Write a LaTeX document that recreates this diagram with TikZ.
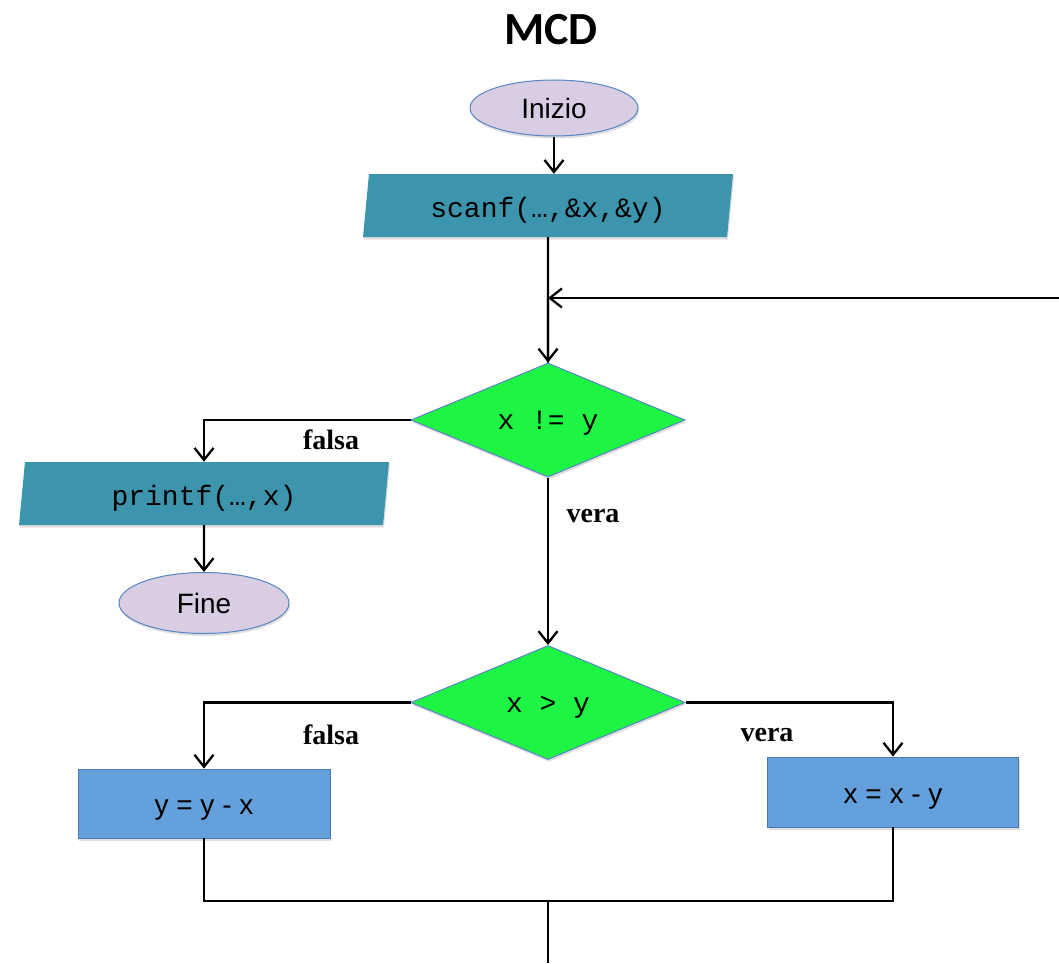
\documentclass[tikz,border=0pt]{standalone}
\usepackage{fontspec}
\setmainfont{Liberation Sans}
\newfontfamily\monof{Liberation Mono}
\newfontfamily\labf{Liberation Serif}
\newfontfamily\titlef{Carlito}
\usetikzlibrary{shapes.geometric,arrows.meta,shadows}
\definecolor{lav}{HTML}{D8CDE3}
\definecolor{bord}{HTML}{5585C4}
\definecolor{teal}{HTML}{3D95AD}
\definecolor{grn}{HTML}{1EF443}
\definecolor{boxblue}{HTML}{64A1DC}
\tikzset{
  shd/.style={drop shadow={opacity=0.25,shadow xshift=1pt,shadow yshift=-2.5pt}},
  term/.style={ellipse,draw=bord,line width=1pt,fill=lav,shd,inner sep=0pt,
    font=\fontsize{28}{32}\selectfont},
  io/.style={trapezium,trapezium left angle=76,trapezium right angle=104,
    trapezium stretches body,fill=teal,shd,inner sep=0pt,minimum height=63pt,
    text height=24pt,text depth=0pt,
    font=\monof\fontsize{28}{32}\selectfont},
  cond/.style={diamond,draw=bord,line width=1pt,fill=grn,shd,inner sep=0pt,aspect=2.4,
    text height=19pt,text depth=0pt,
    minimum width=274pt,minimum height=114pt,font=\monof\fontsize{28}{32}\selectfont},
  proc/.style={rectangle,draw=bord!90!black,line width=0.8pt,fill=boxblue,shd,inner sep=0pt,
    text height=22pt,text depth=0pt,
    font=\fontsize{28}{32}\selectfont},
  lab/.style={font=\labf\bfseries\fontsize{28}{32}\selectfont},
  arr/.style={line width=2.3pt,-{Straight Barb[length=12pt,width=19pt,line width=2.3pt]}},
  ln/.style={line width=2.3pt},
}
\begin{document}
\begin{tikzpicture}[x=1pt,y=-1pt]
\useasboundingbox (0,0) rectangle (1059,963);
\node[font=\titlef\bfseries\fontsize{46}{50}\selectfont] (title) at (551,30) {MCD};
\node[term,minimum width=168pt,minimum height=56pt] (inizio) at (554,108) {Inizio};
\node[io,minimum width=370pt] (scanf) at (548,205.5) {scanf(…,\&x,\&y)};
\node[cond] (d1) at (548,420) {x != y};
\node[io,minimum width=370pt] (printf) at (204,493.5) {printf(…,x)};
\node[term,minimum width=170pt,minimum height=61pt] (fine) at (204,603) {Fine};
\node[cond] (d2) at (548,702.5) {x > y};
\node[proc,minimum width=252pt,minimum height=69pt] (boxL) at (204,803.5) {y = y - x};
\node[proc,minimum width=251pt,minimum height=70pt] (boxR) at (893,792) {x = x - y};
\node[lab] (f1) at (331,440) {falsa};
\node[lab] (v1) at (593,516) {vera};
\node[lab] (f2) at (331,735) {falsa};
\node[lab] (v2) at (767,735) {vera};
\coordinate (loopin) at (1059,298);
\coordinate (join) at (548,901);
\coordinate (bottom) at (548,963);
\draw[arr] (inizio.south) -- (inizio.south |- scanf.north);
\draw[ln] (scanf.south) -- (d1.north);
\draw[arr] (scanf.south |- loopin) -- (d1.north);
\draw[arr] (loopin) -- (loopin -| scanf.south);
\draw[arr] (d1.west) -| (printf.north);
\draw[arr] (printf.south) -- (fine.north);
\draw[arr] (d1.south) -- (d2.north);
\draw[arr] (d2.west) -| (boxL.north);
\draw[arr] (d2.east) -| (boxR.north);
\draw[ln] (boxL.south) |- (join) -| (boxR.south);
\draw[ln] (join) -- (bottom);
\end{tikzpicture}
\end{document}
